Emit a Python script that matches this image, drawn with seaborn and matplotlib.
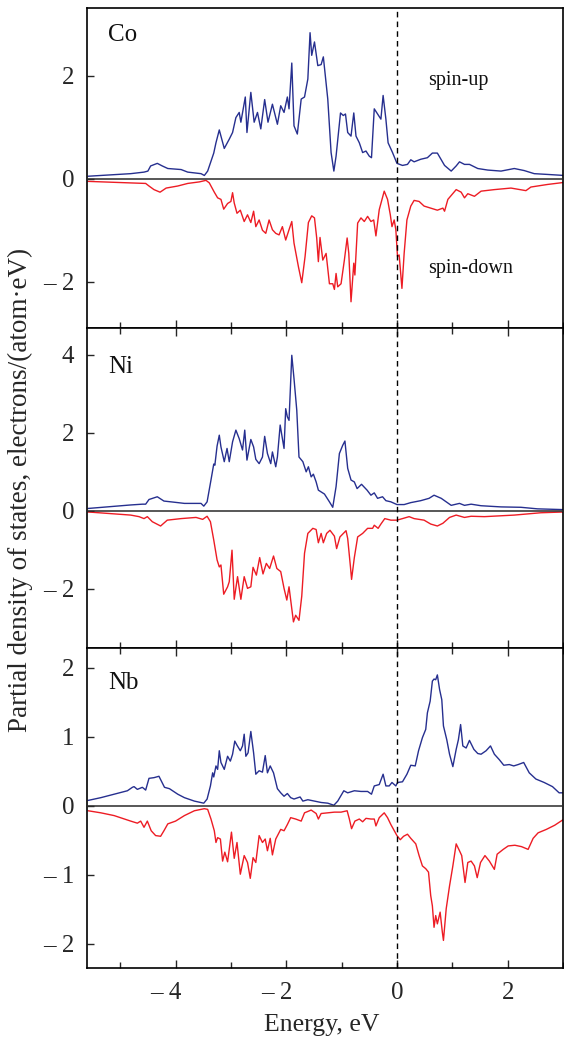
import numpy as np
import pandas as pd
import matplotlib
matplotlib.use("Agg")
import matplotlib.pyplot as plt
from matplotlib.ticker import MultipleLocator, FuncFormatter
from matplotlib.transforms import ScaledTranslation
import seaborn as sns

sns.set_style("ticks")
plt.rcParams['font.family'] = ['Liberation Serif', 'DejaVu Serif']

# ---------------- data (Energy, eV ; PDOS, electrons/(atom eV)) ----------------
co_up_e = [-5.58, -4.81, -4.57, -4.5, -4.45, -4.33, -4.24, -4.14, -3.9, -3.78, -3.54, -3.48, -3.42, -3.31, -3.27, -3.21,
           -3.12, -3.03, -2.97, -2.91, -2.85, -2.82, -2.74, -2.71, -2.64, -2.58, -2.52, -2.46, -2.39, -2.33, -2.25,
           -2.16, -2.10, -2.04, -1.98, -1.95, -1.90, -1.86, -1.80, -1.73, -1.67, -1.61, -1.57, -1.54, -1.49, -1.43,
           -1.37, -1.33, -1.25, -1.19, -1.14, -1.10, -1.02, -0.97, -0.93, -0.89, -0.83, -0.78, -0.74, -0.68, -0.62,
           -0.56, -0.50, -0.46, -0.41, -0.35, -0.29, -0.25, -0.20, -0.16, -0.08, 0.0, 0.10, 0.19, 0.25, 0.31, 0.43,
           0.55, 0.64, 0.73, 0.86, 0.98, 1.07, 1.13, 1.22, 1.31, 1.46, 1.64, 1.88, 2.12, 2.30, 2.48, 2.72, 3.02]
co_up = [0.05, 0.10, 0.13, 0.15, 0.25, 0.30, 0.25, 0.20, 0.18, 0.13, 0.10, 0.065, 0.15, 0.50, 0.70, 0.95,
         0.59, 0.77, 0.90, 1.19, 1.29, 1.10, 1.59, 0.90, 1.68, 1.10, 1.29, 0.97, 1.54, 1.10, 1.45,
         1.06, 1.42, 1.29, 1.59, 1.36, 2.25, 1.03, 0.87, 1.55, 1.59, 1.94, 2.84, 2.40, 2.66, 2.20,
         2.22, 2.37, 1.55, 0.51, 0.15, 0.44, 1.28, 1.23, 1.26, 0.90, 0.83, 1.28, 0.83, 0.70, 0.51,
         0.54, 0.44, 0.41, 1.36, 1.26, 1.16, 1.62, 1.16, 0.70, 0.51, 0.30, 0.26, 0.28, 0.37, 0.33, 0.38,
         0.41, 0.50, 0.50, 0.26, 0.15, 0.25, 0.33, 0.28, 0.28, 0.20, 0.17, 0.15, 0.20, 0.16, 0.10, 0.085, 0.065]

co_dn_e = [-5.58, -4.81, -4.54, -4.48, -4.39, -4.28, -4.17, -3.96, -3.78, -3.57, -3.45, -3.39, -3.30, -3.24, -3.18,
           -3.13, -3.06, -3.00, -2.97, -2.94, -2.89, -2.83, -2.76, -2.70, -2.64, -2.59, -2.55, -2.49, -2.43, -2.37,
           -2.31, -2.25, -2.19, -2.13, -2.07, -2.01, -1.95, -1.90, -1.86, -1.78, -1.72, -1.66, -1.60, -1.54, -1.49,
           -1.45, -1.42, -1.39, -1.34, -1.28, -1.22, -1.16, -1.13, -1.10, -1.07, -1.01, -0.95, -0.90, -0.87, -0.83,
           -0.78, -0.76, -0.71, -0.65, -0.59, -0.53, -0.47, -0.42, -0.38, -0.32, -0.23, -0.17, -0.12, -0.09, -0.05,
           -0.02, 0.01, 0.04, 0.09, 0.13, 0.18, 0.25, 0.31, 0.40, 0.49, 0.61, 0.73, 0.83, 0.86, 0.92, 1.07, 1.16,
           1.22, 1.28, 1.40, 1.52, 1.76, 2.06, 2.33, 2.42, 2.72, 3.02]
co_dn = [-0.05, -0.08, -0.09, -0.14, -0.21, -0.26, -0.18, -0.14, -0.09, -0.06, -0.03, -0.08, -0.26, -0.37, -0.40,
         -0.59, -0.48, -0.44, -0.27, -0.47, -0.67, -0.61, -0.83, -0.70, -0.85, -0.63, -0.93, -0.80, -1.00, -1.06,
         -0.80, -0.99, -1.06, -1.09, -0.93, -1.19, -0.99, -0.83, -1.25, -1.71, -2.02, -1.51, -0.85, -0.72, -0.76,
         -1.15, -1.61, -1.14, -1.58, -1.45, -2.04, -2.04, -2.15, -1.84, -2.10, -2.04, -1.58, -1.15, -1.45, -2.39,
         -1.64, -1.87, -0.86, -0.76, -0.83, -0.73, -0.83, -0.80, -1.11, -0.60, -0.24, -0.40, -0.70, -0.93, -0.80,
         -0.99, -1.51, -1.48, -2.13, -1.45, -0.80, -0.53, -0.42, -0.44, -0.53, -0.57, -0.61, -0.57, -0.63, -0.40,
         -0.21, -0.26, -0.37, -0.29, -0.34, -0.24, -0.21, -0.18, -0.23, -0.16, -0.11, -0.07]

ni_up_e = [-5.58, -4.81, -4.60, -4.54, -4.48, -4.33, -4.21, -3.96, -3.84, -3.54, -3.49, -3.43, -3.36, -3.31, -3.29,
           -3.25, -3.21, -3.18, -3.12, -3.07, -3.03, -2.97, -2.91, -2.85, -2.79, -2.75, -2.71, -2.64, -2.59, -2.55,
           -2.49, -2.43, -2.39, -2.34, -2.28, -2.25, -2.19, -2.16, -2.11, -2.08, -2.04, -2.01, -1.98, -1.95, -1.90,
           -1.86, -1.81, -1.77, -1.70, -1.64, -1.60, -1.55, -1.51, -1.46, -1.42, -1.31, -1.22, -1.16, -1.10, -1.04,
           -0.98, -0.94, -0.89, -0.83, -0.77, -0.72, -0.64, -0.54, -0.47, -0.41, -0.35, -0.26, -0.20, -0.11, 0.0,
           0.13, 0.25, 0.43, 0.58, 0.67, 0.80, 0.98, 1.13, 1.22, 1.34, 1.52, 1.88, 2.24, 2.54, 3.02]
ni_up = [0.06, 0.15, 0.17, 0.17, 0.29, 0.36, 0.25, 0.21, 0.19, 0.19, 0.12, 0.23, 0.79, 1.20, 1.17,
         1.66, 1.94, 1.64, 1.26, 1.60, 1.26, 1.77, 2.07, 1.85, 1.56, 2.07, 1.30, 1.83, 1.64, 1.32,
         1.21, 1.38, 1.91, 1.47, 1.21, 1.51, 1.13, 1.38, 2.20, 1.94, 1.60, 2.62, 2.41, 2.32, 3.99,
         3.39, 2.58, 1.38, 1.26, 1.00, 1.13, 0.87, 0.94, 0.74, 0.53, 0.43, 0.23, 0.09, 0.62, 1.47,
         1.68, 1.79, 1.09, 0.79, 0.74, 0.57, 0.68, 0.53, 0.40, 0.46, 0.32, 0.36, 0.26, 0.23, 0.16,
         0.16, 0.21, 0.26, 0.32, 0.40, 0.32, 0.14, 0.19, 0.14, 0.17, 0.13, 0.10, 0.09, 0.05, 0.03]

ni_dn_e = [-5.58, -4.81, -4.66, -4.57, -4.51, -4.42, -4.27, -4.15, -3.90, -3.63, -3.51, -3.43, -3.37, -3.31, -3.25,
           -3.21, -3.18, -3.13, -3.06, -3.03, -2.98, -2.94, -2.88, -2.82, -2.76, -2.70, -2.64, -2.60, -2.54, -2.48,
           -2.42, -2.36, -2.30, -2.23, -2.17, -2.10, -2.04, -1.99, -1.95, -1.87, -1.83, -1.77, -1.72, -1.67, -1.61,
           -1.52, -1.46, -1.42, -1.37, -1.33, -1.27, -1.21, -1.13, -1.09, -1.03, -0.92, -0.89, -0.84, -0.82, -0.77,
           -0.71, -0.62, -0.53, -0.44, -0.41, -0.34, -0.29, -0.22, -0.11, 0.0, 0.10, 0.22, 0.31, 0.49, 0.61, 0.73,
           0.83, 0.95, 1.07, 1.22, 1.34, 1.58, 2.12, 2.60, 3.02]
ni_dn = [-0.03, -0.11, -0.15, -0.20, -0.15, -0.28, -0.39, -0.24, -0.20, -0.17, -0.22, -0.14, -0.28, -0.75, -1.26,
         -1.44, -1.39, -2.14, -1.95, -1.82, -1.01, -2.27, -1.69, -2.27, -1.69, -1.99, -1.95, -1.45, -1.65, -1.20,
         -1.62, -1.35, -1.48, -1.16, -1.48, -1.56, -1.99, -2.29, -1.95, -2.85, -2.68, -2.81, -2.19, -1.09, -0.58,
         -0.45, -0.48, -0.82, -0.58, -0.82, -0.58, -0.50, -0.65, -0.97, -0.67, -0.51, -0.71, -1.44, -1.76, -1.20,
         -0.67, -0.58, -0.45, -0.45, -0.37, -0.45, -0.34, -0.20, -0.24, -0.24, -0.20, -0.15, -0.20, -0.24, -0.34, -0.39,
         -0.32, -0.17, -0.11, -0.17, -0.14, -0.15, -0.11, -0.05, -0.03]

nb_up_e = [-5.58, -5.35, -5.11, -4.87, -4.78, -4.75, -4.69, -4.60, -4.54, -4.48, -4.39, -4.30, -4.20, -4.11, -3.96,
           -3.84, -3.66, -3.49, -3.43, -3.37, -3.33, -3.31, -3.27, -3.24, -3.21, -3.18, -3.12, -3.06, -3.01, -2.97,
           -2.93, -2.89, -2.83, -2.79, -2.76, -2.73, -2.69, -2.64, -2.59, -2.55, -2.49, -2.43, -2.38, -2.34, -2.29,
           -2.23, -2.16, -2.10, -2.04, -1.98, -1.92, -1.86, -1.75, -1.70, -1.61, -1.49, -1.37, -1.25, -1.14, -1.07,
           -0.96, -0.89, -0.77, -0.65, -0.53, -0.46, -0.41, -0.32, -0.25, -0.20, -0.14, -0.09, -0.02, 0.01, 0.10,
           0.18, 0.25, 0.33, 0.39, 0.46, 0.52, 0.55, 0.60, 0.64, 0.67, 0.70, 0.73, 0.77, 0.81, 0.84, 0.90, 0.95,
           1.01, 1.07, 1.11, 1.15, 1.19, 1.25, 1.31, 1.39, 1.46, 1.52, 1.61, 1.69, 1.76, 1.85, 1.93, 2.03, 2.11,
           2.19, 2.29, 2.39, 2.51, 2.66, 2.81, 2.93, 3.02]
nb_up = [0.08, 0.12, 0.17, 0.22, 0.27, 0.28, 0.24, 0.27, 0.23, 0.40, 0.41, 0.43, 0.27, 0.25, 0.17,
         0.12, 0.07, 0.04, 0.10, 0.29, 0.48, 0.42, 0.58, 0.53, 0.80, 0.63, 0.53, 0.72, 0.65, 0.75,
         0.94, 0.88, 0.80, 0.87, 1.04, 0.72, 0.77, 1.08, 0.77, 0.46, 0.51, 0.49, 0.73, 0.48, 0.58,
         0.48, 0.25, 0.19, 0.14, 0.18, 0.12, 0.10, 0.13, 0.07, 0.09, 0.07, 0.05, 0.04, 0.01, 0.07,
         0.22, 0.19, 0.22, 0.21, 0.21, 0.17, 0.29, 0.31, 0.46, 0.29, 0.29, 0.34, 0.29, 0.34, 0.35,
         0.46, 0.59, 0.58, 0.80, 0.99, 1.11, 1.35, 1.52, 1.81, 1.84, 1.83, 1.90, 1.69, 1.54, 1.16, 0.96, 0.75,
         0.57, 0.82, 0.96, 1.18, 0.87, 0.84, 0.95, 0.82, 0.76, 0.75, 0.80, 0.87, 0.75, 0.67, 0.59, 0.60, 0.58,
         0.60, 0.63, 0.48, 0.39, 0.34, 0.28, 0.19, 0.19]

nb_dn_e = [-5.58, -5.35, -5.11, -4.81, -4.69, -4.63, -4.57, -4.51, -4.44, -4.36, -4.27, -4.21, -4.14, -4.00, -3.84,
           -3.66, -3.48, -3.42, -3.36, -3.30, -3.27, -3.24, -3.19, -3.15, -3.11, -3.06, -3.03, -2.99, -2.94, -2.89,
           -2.83, -2.76, -2.70, -2.65, -2.60, -2.55, -2.49, -2.43, -2.38, -2.34, -2.29, -2.25, -2.19, -2.10, -2.04,
           -1.98, -1.92, -1.83, -1.73, -1.67, -1.55, -1.46, -1.42, -1.37, -1.25, -1.13, -1.01, -0.90, -0.86, -0.82,
           -0.76, -0.68, -0.62, -0.56, -0.47, -0.41, -0.38, -0.32, -0.23, -0.17, -0.11, 0.0, 0.06, 0.12, 0.19, 0.25,
           0.34, 0.40, 0.46, 0.52, 0.57, 0.61, 0.64, 0.67, 0.70, 0.73, 0.78, 0.82, 0.84, 0.89, 0.95, 1.01, 1.07,
           1.13, 1.17, 1.23, 1.28, 1.34, 1.40, 1.45, 1.51, 1.59, 1.67, 1.76, 1.81, 1.92, 2.01, 2.13, 2.25, 2.37,
           2.46, 2.55, 2.70, 2.85, 3.02]
nb_dn = [-0.07, -0.10, -0.14, -0.22, -0.25, -0.22, -0.31, -0.22, -0.36, -0.43, -0.44, -0.36, -0.26, -0.22, -0.14,
         -0.07, -0.04, -0.05, -0.19, -0.36, -0.53, -0.46, -0.48, -0.80, -0.67, -0.81, -0.63, -0.38, -0.76, -0.53,
         -0.99, -0.72, -0.82, -1.05, -0.75, -0.82, -0.43, -0.53, -0.48, -0.65, -0.47, -0.71, -0.48, -0.34, -0.36,
         -0.27, -0.17, -0.19, -0.22, -0.10, -0.06, -0.11, -0.19, -0.11, -0.10, -0.09, -0.09, -0.07, -0.19, -0.33,
         -0.22, -0.19, -0.23, -0.18, -0.19, -0.19, -0.29, -0.17, -0.10, -0.17, -0.27, -0.43, -0.49, -0.44, -0.41, -0.47,
         -0.55, -0.72, -0.87, -0.91, -0.96, -1.30, -1.45, -1.76, -1.59, -1.71, -1.54, -1.83, -1.95, -1.49, -1.16, -0.87, -0.55,
         -0.65, -0.72, -1.11, -0.82, -0.80, -0.87, -1.04, -0.82, -0.72, -0.80, -0.92, -0.70, -0.63, -0.58, -0.57, -0.59, -0.63,
         -0.47, -0.39, -0.34, -0.28, -0.19]

elements = ["Co", "Ni", "Nb"]
x_ticks = [-4, -2, 0, 2]
y_ticks = {"Co": [-2, 0, 2], "Ni": [-2, 0, 2, 4], "Nb": [-2, -1, 0, 1, 2]}
y_limits = {"Co": (-2.9, 3.32), "Ni": (-3.52, 4.69), "Nb": (-2.35, 2.29)}
label_y = {"Co": 2.79, "Ni": 3.68, "Nb": 1.78}
x_limits = (-5.6, 3.0)

series = {
    "Co": ((co_up_e, co_up), (co_dn_e, co_dn)),
    "Ni": ((ni_up_e, ni_up), (ni_dn_e, ni_dn)),
    "Nb": ((nb_up_e, nb_up), (nb_dn_e, nb_dn)),
}

BLUE = "#262f8f"
RED = "#ed1c24"


def fmt(v, pos=None):
    iv = int(round(v))
    return f"\u2013 {abs(iv)}" if iv < 0 else f"{iv}"


W, H = 564, 1039
fig = plt.figure(figsize=(W / 100, H / 100), dpi=100)
left, right = 87 / W, 563 / W
edges_px = [8, 328, 648, 968]

for i, el in enumerate(elements):
    top = 1 - edges_px[i] / H
    bot = 1 - edges_px[i + 1] / H
    ax = fig.add_axes([left, bot, right - left, top - bot])
    (ue, uv), (de, dv) = series[el]
    sns.lineplot(x=ue, y=uv, ax=ax, color=BLUE, lw=1.0, estimator=None, sort=False)
    sns.lineplot(x=de, y=dv, ax=ax, color=RED, lw=1.0, estimator=None, sort=False)
    ax.axhline(0, color="#2a2a2a", lw=1.1, zorder=3)
    ax.axvline(0, color="black", lw=1.0, ls=(0, (4, 3)), zorder=3)
    ax.set_xlim(*x_limits)
    ax.set_ylim(*y_limits[el])
    ax.set_xticks(x_ticks)
    ax.xaxis.set_minor_locator(MultipleLocator(1))
    ax.set_yticks(y_ticks[el])
    ax.yaxis.set_major_formatter(FuncFormatter(fmt))
    ax.xaxis.set_major_formatter(FuncFormatter(fmt))
    ax.tick_params(axis="x", which="major", direction="in", length=6, width=1.0,
                   top=(i > 0), bottom=True, labelbottom=(i == 2), labelsize=18, pad=10)
    ax.tick_params(axis="x", which="minor", direction="in", length=4.5, width=1.0,
                   top=(i > 0), bottom=True)
    ax.tick_params(axis="y", which="major", direction="in", length=5, width=1.0,
                   left=True, right=False, labelsize=18, pad=9)
    for s in ax.spines.values():
        s.set_linewidth(1.2)
        s.set_color("black")
        s.set_visible(True)
    ax.set_xlabel("")
    ax.set_ylabel("")
    ax.text(-5.22, label_y[el], el, fontsize=18, ha="left", va="center", color="#111111")
    if el == "Co":
        ax.text(0.56, 1.91, "spin-up", fontsize=14.5, ha="left", va="center", color="#111111")
        ax.text(0.56, -1.74, "spin-down", fontsize=14.5, ha="left", va="center", color="#111111")
    if i == 2:
        # keep the digit centred on its tick, dash hanging to the left
        off = ScaledTranslation(6 / 100, 0, fig.dpi_scale_trans)
        for t, lab in zip(x_ticks, ax.get_xticklabels()):
            if t < 0:
                lab.set_horizontalalignment("right")
                lab.set_transform(lab.get_transform() + off)

fig.text(20 / W, 1 - 490 / H, "Partial density of states, electrons/(atom\u00b7eV)",
         rotation=90, ha="center", va="center", fontsize=19.5)
fig.text(322 / W, 1 - 1025 / H, "Energy, eV", ha="center", va="center", fontsize=18.5)

fig.savefig("out.png", dpi=100)
